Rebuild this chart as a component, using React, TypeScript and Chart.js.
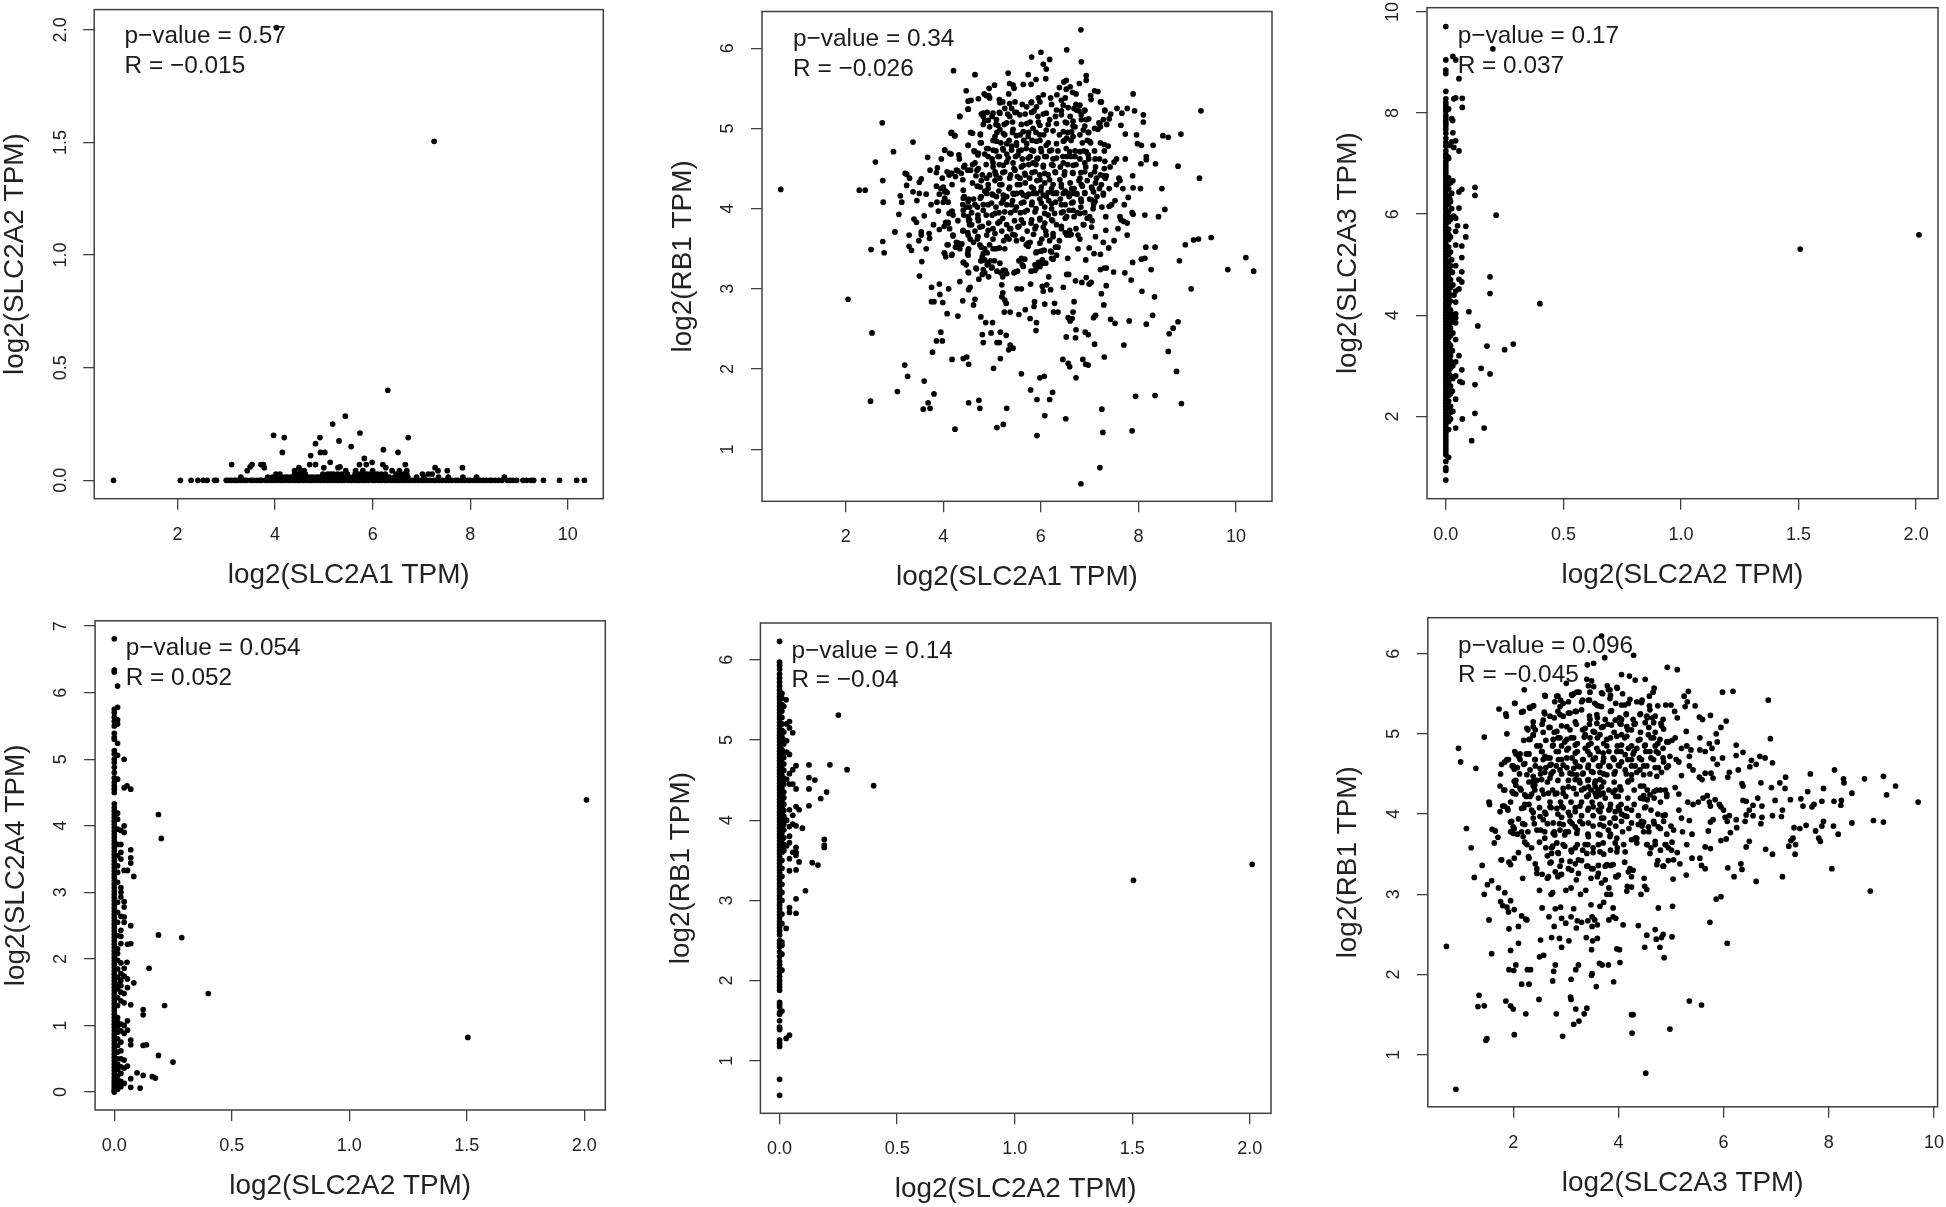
import { useEffect, useRef } from "react";
import { Chart, registerables } from "chart.js";

Chart.register(...registerables);

// ---------- Panel 1: SLC2A1 vs SLC2A2 ----------
const a1BaselineX = [0.69,2.06,2.28,2.42,2.53,2.61,2.76,2.8,3.0,3.05,3.1,3.16,3.2,3.25,3.3,3.37,3.42,3.5,3.55,3.62,3.68,3.72,3.8,3.85,3.92,3.97,4.03,4.1,4.15,4.22,4.28,4.33,4.4,4.46,4.5,4.57,4.63,4.7,4.75,4.82,4.88,4.93,5.0,5.06,5.12,5.18,5.24,5.3,5.37,5.42,5.5,5.55,5.62,5.68,5.73,5.8,5.86,5.92,6.0,6.05,6.12,6.18,6.25,6.3,6.37,6.43,6.5,6.55,6.62,6.68,6.74,6.8,6.86,6.93,7.0,7.05,7.12,7.18,7.25,7.3,7.37,7.43,7.5,7.56,7.62,7.7,7.75,7.82,7.88,7.95,8.0,8.07,8.13,8.2,8.27,8.33,8.4,8.45,8.52,8.58,8.65,8.76,8.82,8.88,8.95,9.08,9.16,9.25,9.3,9.5,9.83,10.18,10.34];
const a1LowX = [3.3,3.85,3.95,4.05,4.12,4.2,4.25,4.32,4.38,4.42,4.5,4.55,4.6,4.66,4.72,4.78,4.85,4.9,4.96,5.05,5.1,5.15,5.22,5.27,5.33,5.4,5.46,5.52,5.6,5.66,5.7,5.76,5.82,5.9,5.96,6.02,6.08,6.14,6.2,6.28,6.34,6.45,6.52,6.6,6.66,6.72,6.9,7.05,7.35,7.55,7.85,8.13,8.7];
const a1MidX = [4.02,4.1,4.4,4.48,4.55,4.62,4.98,5.08,5.14,5.2,5.28,5.36,5.48,5.64,5.72,5.78,5.88,5.95,6.04,6.1,6.18,6.26,6.48,6.56,6.64,6.7,7.02,7.14,7.22];
const a1Outliers: [number, number][] = [[7.26,1.505],[4.03,2.01],[6.31,0.4],[5.44,0.285],[5.18,0.25],[5.74,0.21],[3.97,0.2],[4.19,0.19],[4.92,0.19],[6.73,0.19],[4.83,0.163],[5.31,0.175],[5.56,0.15],[6.22,0.136],[4.15,0.124],[4.93,0.124],[5.02,0.124],[6.52,0.124],[4.73,0.11],[5.83,0.097],[5.13,0.08],[5.99,0.08],[3.11,0.07],[3.49,0.06],[3.53,0.07],[3.43,0.043],[3.71,0.07],[3.76,0.07],[3.78,0.056],[4.71,0.07],[4.83,0.07],[5.0,0.056],[5.29,0.056],[5.73,0.07],[5.87,0.07],[6.21,0.07],[6.27,0.056],[6.67,0.07],[7.28,0.056],[7.34,0.043],[7.53,0.043],[7.84,0.056],[4.49,0.056],[4.52,0.043],[4.6,0.043],[4.4,0.043],[5.33,0.06],[5.45,0.043],[5.65,0.043],[5.8,0.043],[6.0,0.043],[6.4,0.043],[6.55,0.043],[6.7,0.043]];

// ---------- Panel 2: SLC2A1 vs RB1 ----------
const a1Rb1Sparse: [number, number][] = [[0.67,4.24],[2.05,2.87],[2.28,4.23],[2.4,4.23],[2.52,3.49],[2.54,2.45],[2.51,1.6],[2.61,4.58],[2.75,5.07],[2.76,4.35],[2.77,4.08],[2.76,3.59],[2.79,3.45],[2.98,4.71],[3.01,3.71],[3.09,3.93],[3.12,4.16],[3.15,4.08],[3.21,2.05],[3.06,1.72],[3.27,1.91],[3.22,4.44],[3.25,4.43],[3.25,4.29],[3.31,4.38],[3.38,4.83],[3.38,4.21],[3.3,3.67],[3.3,3.53],[3.35,3.48],[3.4,3.87],[3.45,3.83],[3.46,4.1],[3.51,4.19],[3.51,4.33],[3.55,4.37],[3.5,3.6],[3.55,3.71],[3.55,3.67],[3.56,3.34],[3.51,3.16],[3.61,3.91],[3.65,3.5],[3.68,4.64],[3.65,4.18],[3.73,4.48],[3.71,3.69],[3.72,3.63],[3.76,3.02],[3.76,2.84],[3.81,2.84],[3.78,2.21],[3.61,1.85],[3.81,1.69],[3.59,1.5],[3.69,1.58],[3.73,1.51],[4.24,1.25],[4.18,2.12],[4.41,2.13],[4.48,2.15],[4.52,2.06],[4.52,1.58],[4.73,1.61],[4.75,1.51],[5.1,1.27],[5.23,1.31],[5.3,1.51],[5.03,2.01],[5.17,2.13],[3.86,2.35],[3.98,2.35],[3.95,2.46],[3.92,3.06],[3.93,2.93],[3.99,2.83],[4.11,3.0],[4.08,2.69],[4.3,2.66],[4.34,3.09],[4.4,2.85],[4.52,2.99],[4.55,3.02],[4.62,2.8],[4.65,2.87],[4.77,2.65],[4.87,2.58],[5.01,2.58],[4.98,2.45],[4.8,2.43],[4.82,2.33],[5.1,2.33],[5.15,2.33],[5.17,2.46],[5.29,2.42],[5.37,2.3],[5.34,2.24],[5.43,2.26],[5.6,1.94],[5.79,1.74],[5.92,1.62],[5.98,1.89],[6.07,1.91],[6.08,1.42],[5.92,1.17],[6.18,1.62],[6.24,1.71],[6.51,1.38],[6.72,1.89],[6.56,2.07],[6.59,2.03],[6.45,2.12],[6.86,2.12],[6.92,2.06],[6.97,2.05],[7.25,1.5],[7.21,0.77],[6.82,0.57],[7.27,1.21],[7.87,1.23],[7.94,1.66],[8.34,1.67],[8.78,1.97],[8.88,1.57],[7.3,2.15],[7.1,2.31],[7.7,2.3],[8.61,2.22],[8.63,2.44],[8.71,2.51],[8.81,2.59],[8.16,2.56],[8.29,2.67],[7.81,2.6],[7.52,2.57],[7.43,2.62],[7.08,2.64],[7.12,2.67],[7.29,2.8],[7.24,2.94],[7.34,3.04],[6.99,3.06],[7.03,3.08],[6.93,3.14],[6.71,3.1],[6.84,3.08],[6.66,2.71],[6.68,2.84],[6.72,2.49],[6.91,2.46],[6.97,2.43],[6.71,2.39],[6.52,2.4],[6.56,2.64],[6.64,2.63],[6.6,2.6],[6.28,2.82],[6.26,2.71],[6.35,2.71],[6.08,2.81],[5.87,2.84],[5.86,2.78],[5.78,2.63],[5.91,2.58],[5.9,2.48],[5.68,2.74],[5.55,2.68],[5.37,2.71],[5.25,2.71],[5.29,2.82],[5.26,2.86],[5.2,2.9],[5.22,2.95],[5.2,3.05],[5.51,3.0],[5.6,3.0],[5.79,3.06],[6.03,3.03],[6.12,3.05],[6.05,2.97],[6.2,2.99],[6.16,3.15],[6.46,3.02],[6.53,3.18],[6.57,3.18],[6.55,3.38],[6.92,3.36],[6.99,3.51],[7.09,3.44],[7.22,3.43],[7.22,3.24],[7.3,3.26],[7.34,3.26],[7.49,3.21],[7.72,3.2],[7.85,3.11],[7.88,3.33],[8.07,2.97],[8.33,2.9],[8.26,3.24],[8.06,3.37],[8.13,3.38],[8.15,3.52],[8.34,3.52],[8.84,3.35],[9.08,3.0],[8.96,3.55],[9.13,3.61],[9.23,3.62],[9.49,3.64],[9.83,3.24],[10.2,3.39],[10.36,3.22],[9.28,5.22],[9.25,4.38],[8.87,4.93],[8.81,4.53],[8.61,4.89],[8.5,4.91],[8.48,4.25],[8.54,3.99],[8.41,3.9],[7.89,5.43],[8.1,5.17],[8.1,5.08],[7.92,5.22],[7.77,5.25],[7.56,5.25],[7.43,5.18],[7.66,5.19],[7.64,5.04],[7.96,4.92],[7.73,4.93],[8.3,4.79],[7.98,4.81],[8.06,4.79],[8.16,4.65],[8.16,4.61],[8.05,4.56],[8.35,4.56],[7.73,4.62],[7.88,4.41],[7.89,4.26],[8.04,4.25],[7.87,3.95],[7.89,3.93],[8.13,3.92],[7.79,4.14],[7.71,4.05],[7.77,3.67],[7.77,3.82],[7.7,3.84],[7.62,3.9],[7.64,3.86],[7.58,3.75],[7.5,3.6],[7.39,3.51],[7.28,3.58],[7.33,3.73],[7.33,3.9],[7.12,3.65],[6.82,6.23],[6.83,5.83],[6.53,5.98],[6.0,5.95],[5.81,5.89],[6.18,5.86],[6.05,5.8],[6.11,5.74],[4.21,5.72],[4.65,5.67],[5.33,5.69],[5.74,5.67],[6.93,5.66],[6.93,5.6],[6.52,5.6],[6.47,5.58],[5.9,5.61],[6.1,5.62],[5.8,5.55],[5.64,5.55],[5.36,5.56],[5.43,5.54],[5.45,5.5],[5.05,5.54],[4.94,5.5],[4.47,5.47],[4.84,5.43],[4.93,5.41],[4.95,5.38],[4.88,5.41],[4.72,5.37],[4.57,5.35],[4.51,5.24],[4.34,5.15],[5.15,5.36],[5.22,5.33],[5.34,5.43],[6.79,5.56],[6.72,5.43],[6.6,5.52],[6.52,5.49],[6.65,5.45],[6.38,5.51],[6.33,5.42],[7.1,5.47],[7.17,5.46],[7.02,5.41],[7.03,5.36],[7.22,5.33],[7.31,5.22],[7.4,5.12],[7.19,5.07],[7.35,5.05],[7.22,5.02],[7.1,5.0],[4.16,4.94],[4.23,4.91],[4.6,4.94],[4.51,4.79],[4.76,4.92],[4.78,4.82],[4.63,4.72],[4.72,4.69],[4.03,4.73],[4.16,4.68],[4.32,4.67],[3.96,4.62],[3.88,4.51],[3.86,4.45],[3.98,4.38],[4.12,4.42],[4.08,4.46],[4.15,4.44]];
const a1Rb1Core: [number, number][] = [[4.6,4.55],[4.42,4.52],[4.5,4.48],[4.3,4.47],[4.25,4.4],[4.4,4.36],[4.18,4.3],[4.05,4.22],[3.95,4.25],[3.86,4.28],[3.92,4.18],[3.87,4.08],[4.0,4.08],[4.08,4.2],[3.75,4.05],[3.9,3.97],[4.12,3.94],[4.18,3.97],[3.8,3.8],[3.92,3.74],[4.02,3.78],[4.05,3.83],[4.1,3.83],[4.02,3.45],[4.05,3.4],[4.18,3.43],[4.08,3.55],[4.2,3.67],[4.27,3.58],[4.33,3.53],[4.25,3.52],[4.38,3.56],[4.52,3.5],[4.5,3.44],[4.42,3.33],[4.47,3.3],[4.52,3.2],[4.68,3.25],[4.77,3.35],[4.8,3.4],[4.85,3.36],[4.9,3.3],[4.97,3.35],[5.0,3.27],[5.05,3.35],[4.85,3.2],[4.93,3.15],[4.8,3.18],[4.73,3.12],[5.1,3.22],[5.18,3.2],[5.22,3.15],[5.27,3.23],[5.45,3.2],[5.52,3.22],[5.55,3.35],[5.6,3.38],[5.62,3.3],[5.8,3.22],[5.88,3.3],[5.95,3.33],[6.03,3.36],[6.1,3.32],[5.9,3.45],[6.0,3.47],[6.07,3.48],[6.2,3.47],[6.22,3.38],[6.3,3.52],[6.38,3.6],[4.4,3.72],[4.5,3.7],[4.55,3.62],[4.62,3.58],[4.7,3.62],[4.75,3.55],[4.85,3.5],[4.9,3.45],[4.95,3.55],[5.02,3.62],[5.08,3.5],[5.15,3.51],[5.24,3.6],[5.35,3.62],[5.42,3.68],[5.5,3.6],[5.62,3.62],[5.7,3.55],[5.78,3.58],[5.85,3.68],[6.02,3.62],[6.1,3.72],[6.18,3.6],[6.25,3.65],[6.42,3.78],[6.5,3.7],[6.62,3.68],[6.72,3.75],[6.8,3.62],[6.88,3.8],[6.95,3.88],[7.05,3.85],[4.3,3.85],[4.42,3.92],[4.48,4.02],[4.52,3.85],[4.58,3.8],[4.65,3.72],[4.72,3.85],[4.8,3.78],[4.88,3.92],[4.93,3.82],[5.02,3.75],[5.12,3.82],[5.2,3.72],[5.3,3.8],[5.38,3.75],[5.46,3.85],[5.55,3.78],[5.64,3.82],[5.72,3.72],[5.8,3.82],[5.9,3.78],[5.98,3.88],[6.08,3.82],[6.15,3.92],[6.24,3.85],[6.32,3.8],[6.42,3.95],[6.5,3.88],[6.58,3.98],[6.68,3.9],[6.75,3.95],[6.82,4.02],[6.9,3.95],[4.4,4.05],[4.43,4.15],[4.52,4.12],[4.58,3.95],[4.62,4.12],[4.7,4.02],[4.78,4.15],[4.82,3.98],[4.92,4.05],[5.0,3.92],[5.08,4.02],[5.14,3.95],[5.22,3.88],[5.3,4.05],[5.38,3.95],[5.42,4.1],[5.5,4.02],[5.58,3.95],[5.65,4.08],[5.72,3.98],[5.82,4.08],[5.9,4.0],[5.98,4.12],[6.08,4.02],[6.16,4.1],[6.22,4.0],[6.3,4.08],[6.4,4.12],[6.5,4.05],[6.58,4.15],[6.66,4.08],[6.74,4.18],[6.82,4.12],[6.9,4.2],[7.0,4.12],[7.08,4.05],[7.15,4.15],[7.25,4.02],[7.4,4.03],[7.45,4.05],[7.52,4.1],[4.7,4.28],[4.78,4.35],[4.85,4.22],[4.92,4.3],[5.0,4.18],[5.06,4.35],[5.14,4.22],[5.2,4.3],[5.28,4.15],[5.35,4.25],[5.45,4.18],[5.52,4.3],[5.6,4.2],[5.68,4.32],[5.75,4.18],[5.85,4.25],[5.92,4.35],[6.0,4.22],[6.08,4.32],[6.15,4.2],[6.25,4.3],[6.32,4.2],[6.42,4.3],[6.5,4.22],[6.6,4.32],[6.68,4.25],[6.78,4.35],[6.85,4.28],[6.95,4.35],[7.05,4.25],[7.12,4.32],[7.2,4.25],[7.32,4.38],[7.4,4.25],[7.55,4.3],[7.62,4.35],[7.68,4.25],[4.72,4.5],[4.8,4.42],[4.88,4.55],[4.95,4.42],[5.02,4.52],[5.08,4.42],[5.15,4.55],[5.22,4.45],[5.3,4.58],[5.38,4.42],[5.45,4.5],[5.52,4.4],[5.6,4.52],[5.68,4.42],[5.75,4.55],[5.82,4.45],[5.9,4.55],[5.98,4.42],[6.05,4.52],[6.15,4.42],[6.22,4.55],[6.3,4.45],[6.4,4.52],[6.48,4.42],[6.55,4.55],[6.65,4.45],[6.72,4.55],[6.82,4.45],[6.92,4.52],[7.02,4.42],[7.12,4.52],[7.22,4.42],[7.3,4.5],[7.42,4.52],[7.5,4.58],[7.55,4.62],[7.6,4.38],[4.85,4.68],[4.92,4.75],[5.0,4.62],[5.08,4.72],[5.15,4.65],[5.22,4.75],[5.3,4.68],[5.4,4.78],[5.48,4.65],[5.55,4.72],[5.62,4.62],[5.7,4.75],[5.78,4.65],[5.85,4.72],[5.92,4.62],[6.0,4.75],[6.08,4.65],[6.18,4.72],[6.25,4.62],[6.35,4.72],[6.45,4.65],[6.52,4.75],[6.62,4.65],[6.7,4.72],[6.8,4.62],[6.88,4.72],[6.98,4.62],[7.1,4.72],[7.2,4.62],[7.3,4.72],[7.38,4.78],[7.22,4.82],[7.3,4.8],[7.02,4.82],[6.95,4.85],[6.98,4.95],[5.02,4.85],[5.1,4.95],[5.18,4.82],[5.26,4.92],[5.35,4.85],[5.42,4.95],[5.5,4.82],[5.58,4.92],[5.65,4.85],[5.75,4.95],[5.82,4.85],[5.9,4.95],[5.98,4.85],[6.06,4.92],[6.15,4.82],[6.38,4.92],[6.48,4.85],[6.55,4.95],[6.62,4.85],[6.7,5.02],[6.8,4.92],[6.85,4.82],[5.0,5.15],[5.08,5.05],[5.15,5.2],[5.25,5.05],[5.32,5.18],[5.42,5.08],[5.5,5.2],[5.6,5.05],[5.68,5.18],[5.78,5.08],[5.86,5.22],[5.95,5.08],[6.05,5.18],[6.15,5.05],[6.3,5.15],[6.42,5.22],[6.5,5.08],[6.6,5.15],[6.68,5.25],[6.78,5.22],[6.9,5.22],[6.98,5.12],[5.62,5.3],[5.8,5.32],[5.95,5.38],[6.05,5.42],[6.2,5.38],[6.42,5.35],[6.5,5.38],[6.72,5.3],[4.78,5.18],[4.85,5.1],[4.95,5.02],[4.82,5.05],[4.9,5.2]];
const a1Rb1Field: [number, number][] = [[4.51,5.34],[5.16,5.32],[5.36,5.31],[5.47,5.33],[5.81,5.33],[5.98,5.33],[6.22,5.3],[6.46,5.29],[6.8,5.29],[7.24,5.33],[4.51,5.24],[5.26,5.25],[5.4,5.25],[5.71,5.27],[5.91,5.27],[6.32,5.23],[6.56,5.26],[6.73,5.23],[6.9,5.23],[4.82,5.19],[5.02,5.19],[5.16,5.19],[5.47,5.2],[5.81,5.2],[6.11,5.19],[6.42,5.17],[6.83,5.17],[7.31,5.23],[4.34,5.15],[4.82,5.15],[4.92,5.1],[5.09,5.11],[5.36,5.15],[5.57,5.17],[5.94,5.15],[6.18,5.11],[6.53,5.07],[6.66,5.09],[6.83,5.11],[6.93,5.11],[7.28,5.11],[5.12,5.04],[5.3,5.07],[5.71,5.06],[5.98,5.04],[6.32,5.06],[6.66,5.03],[6.9,5.03],[7.21,5.06],[5.16,4.99],[5.43,4.99],[5.64,4.96],[5.84,5.0],[6.11,4.98],[6.25,4.97],[6.46,4.96],[6.63,4.96],[6.87,4.98],[7.17,4.99],[4.17,4.95],[4.24,4.91],[4.56,4.95],[4.76,4.93],[5.23,4.94],[5.06,4.9],[5.5,4.91],[5.74,4.9],[5.98,4.92],[6.53,4.88],[6.66,4.9],[6.97,4.95],[4.76,4.82],[4.51,4.79],[4.89,4.75],[5.09,4.84],[5.3,4.81],[5.5,4.79],[5.71,4.81],[5.91,4.84],[6.11,4.79],[6.32,4.81],[6.46,4.84],[7.0,4.84],[4.03,4.73],[4.65,4.71],[5.02,4.73],[5.23,4.73],[5.4,4.73],[5.6,4.73],[5.81,4.73],[6.01,4.71],[6.22,4.73],[6.59,4.71],[6.8,4.71],[6.93,4.71],[4.13,4.69],[4.33,4.62],[4.71,4.67],[4.92,4.65],[5.12,4.65],[5.33,4.63],[5.53,4.67],[5.74,4.63],[5.94,4.63],[6.11,4.65],[6.32,4.63],[6.53,4.65],[6.7,4.65],[6.97,4.67],[7.11,4.62],[7.31,4.59],[4.44,4.54],[4.65,4.57],[5.02,4.57],[5.23,4.54],[5.43,4.57],[5.64,4.54],[5.84,4.57],[6.05,4.54],[6.25,4.54],[6.46,4.57],[6.66,4.54],[6.9,4.57],[4.17,4.44],[4.27,4.48],[4.56,4.48],[4.69,4.48],[5.06,4.46],[5.26,4.46],[5.47,4.48],[5.67,4.44],[5.88,4.46],[6.08,4.44],[6.29,4.46],[6.49,4.46],[6.66,4.44],[6.9,4.46],[7.1,4.46],[7.28,4.41],[4.37,4.44],[4.67,4.41],[4.89,4.38],[5.16,4.38],[5.36,4.38],[5.57,4.38],[5.77,4.38],[5.98,4.36],[6.18,4.36],[6.39,4.36],[6.8,4.38],[7.14,4.38],[7.34,4.41],[4.6,4.32],[4.76,4.27],[4.92,4.25],[5.16,4.3],[5.36,4.27],[5.57,4.3],[5.81,4.27],[6.01,4.27],[6.22,4.25],[6.42,4.27],[6.63,4.25],[6.83,4.3],[7.04,4.27],[7.24,4.3],[4.0,4.27],[4.03,4.21],[4.41,4.23],[5.02,4.17],[5.23,4.17],[5.43,4.19],[5.64,4.17],[5.84,4.19],[6.05,4.17],[6.25,4.19],[6.46,4.19],[6.66,4.19],[6.9,4.19],[7.08,4.21],[4.41,4.13],[4.51,4.09],[4.76,4.13],[4.89,4.19],[5.09,4.15],[5.3,4.15],[5.5,4.19],[5.71,4.15],[5.91,4.19],[6.11,4.15],[6.32,4.19],[6.56,4.19],[6.73,4.19],[7.28,4.17],[4.03,4.13],[4.1,4.08],[4.54,4.02],[4.65,4.05],[4.82,4.05],[4.99,4.07],[5.19,4.07],[5.4,4.05],[5.6,4.07],[5.81,4.05],[6.01,4.07],[6.22,4.06],[6.42,4.05],[6.63,4.07],[6.83,4.09],[7.04,4.11],[7.11,4.09],[7.28,4.19],[5.23,4.11],[4.17,3.96],[4.2,3.92],[4.41,3.98],[4.51,3.9],[4.71,3.92],[5.06,3.94],[5.26,3.96],[5.47,3.98],[5.67,3.96],[5.88,3.96],[6.08,3.94],[6.28,3.94],[6.46,3.96],[6.66,3.98],[6.8,3.94],[7.07,4.0],[4.1,3.82],[4.13,3.75],[4.54,3.86],[4.71,3.88],[5.16,3.84],[5.6,3.86],[5.81,3.86],[5.98,3.86],[6.22,3.86],[6.53,3.9],[7.0,3.9],[4.41,3.73],[4.54,3.8],[4.75,3.77],[4.92,3.73],[5.36,3.75],[5.53,3.77],[5.88,3.75],[6.05,3.77],[6.42,3.75],[6.59,3.73],[6.87,3.8],[7.04,3.77],[4.2,3.66],[4.51,3.67],[4.71,3.65],[4.89,3.67],[5.06,3.69],[5.3,3.65],[5.47,3.67],[5.74,3.57],[5.98,3.57],[6.11,3.67],[6.25,3.69],[6.53,3.67],[6.59,3.67],[6.76,3.67],[4.31,3.57],[4.1,3.55],[4.34,3.5],[4.51,3.48],[4.78,3.52],[5.02,3.5],[5.26,3.5],[5.74,3.53],[5.91,3.46],[6.05,3.48],[6.22,3.46],[6.35,3.52],[6.76,3.5],[4.03,3.44],[4.17,3.42],[4.51,3.42],[4.82,3.44],[6.32,3.42],[4.41,3.33],[4.78,3.35],[4.92,3.32],[5.16,3.32],[5.57,3.35],[5.67,3.37],[5.64,3.28],[6.05,3.32],[5.98,3.28],[5.91,3.26],[6.25,3.37],[4.51,3.21],[4.67,3.26],[4.82,3.24],[4.99,3.26],[5.23,3.23],[5.3,3.19],[5.47,3.21],[5.88,3.23]];

// ---------- Panel 3: SLC2A2 vs SLC2A3 ----------
const a3AtZero = [9.71,9.05,8.85,8.78,8.43,8.28,8.2,8.14,8.08,8.03,7.95,7.9,7.85,7.8,7.75,7.68,7.6,7.5,7.42,7.35,7.25,7.18,7.12,7.05,7.0,6.94,6.88,6.82,6.76,6.7,6.64,6.58,6.52,6.46,6.4,6.34,6.28,6.22,6.16,6.1,6.04,5.98,5.92,5.86,5.8,5.74,5.68,5.62,5.56,5.5,5.44,5.38,5.32,5.26,5.2,5.14,5.08,5.02,4.96,4.9,4.84,4.78,4.72,4.66,4.6,4.54,4.48,4.42,4.36,4.3,4.24,4.18,4.12,4.06,4.0,3.94,3.88,3.82,3.76,3.7,3.64,3.58,3.52,3.46,3.4,3.34,3.28,3.22,3.16,3.1,3.04,2.98,2.92,2.86,2.8,2.74,2.68,2.62,2.56,2.5,2.44,2.38,2.32,2.26,2.2,2.14,2.08,2.02,1.96,1.9,1.84,1.78,1.72,1.66,1.6,1.54,1.48,1.42,1.36,1.3,1.24,1.11,0.98,0.93,0.74];
const a3AtSmall = [7.1,6.72,6.6,6.5,6.35,6.2,6.05,5.95,5.85,5.7,5.6,5.5,5.35,5.2,5.05,4.95,4.9,4.82,4.75,4.68,4.6,4.52,4.45,4.38,4.3,4.22,4.15,4.08,4.02,3.95,3.88,3.8,3.72,3.65,3.55,3.45,3.35,3.25,3.15,3.05,2.98,2.88,2.78,2.68,2.55,2.42,2.3,2.18,2.05,1.9,1.74];
const a3AtTiny = [6.62,6.25,5.9,5.55,5.25,4.98,4.88,4.7,4.55,4.4,4.28,4.1,3.98,3.85,3.75,3.6,3.4,3.2,3.1,2.95,2.8,2.6,2.45,2.2,2.08,1.95];
const a3Sparse: [number, number][] = [[0.03,9.12],[0.042,9.05],[0.2,9.27],[0.056,8.68],[0.034,8.28],[0.042,8.3],[0.07,8.29],[0.07,8.11],[0.012,8.08],[0.025,7.89],[0.029,7.85],[0.03,7.61],[0.025,7.43],[0.042,7.45],[0.017,7.36],[0.034,7.32],[0.056,7.25],[0.01,7.13],[0.03,6.66],[0.068,6.49],[0.056,6.44],[0.124,6.53],[0.124,6.37],[0.025,6.41],[0.017,6.3],[0.056,6.12],[0.214,5.98],[0.025,6.11],[0.034,5.96],[0.042,5.92],[0.085,5.76],[0.085,5.55],[0.05,5.77],[0.042,5.66],[0.068,5.37],[0.042,5.39],[0.068,5.14],[0.025,5.1],[0.042,4.98],[0.068,4.86],[0.068,4.66],[0.056,4.71],[0.188,4.76],[0.188,4.43],[0.042,4.48],[0.056,4.52],[0.4,4.23],[0.098,4.07],[0.136,3.79],[0.042,4.26],[0.042,4.03],[0.042,3.95],[0.042,3.85],[0.175,3.39],[0.25,3.32],[0.287,3.43],[0.042,3.52],[0.056,3.2],[0.042,3.08],[0.15,2.95],[0.188,2.84],[0.068,2.92],[0.042,2.8],[0.06,2.69],[0.07,2.67],[0.124,2.63],[0.042,2.34],[0.124,2.06],[0.07,1.95],[0.042,1.77],[0.163,1.77],[0.11,1.52],[1.507,5.31],[2.012,5.59],[0.012,1.19],[0.028,4.85],[0.03,4.6],[0.035,4.4],[0.028,4.02],[0.03,3.9],[0.03,3.65],[0.028,3.3],[0.03,3.0],[0.03,2.75],[0.028,2.5],[0.03,2.1]];

// ---------- Panel 4: SLC2A2 vs SLC2A4 ----------
const a4AtZero = [6.81,6.34,6.31,5.75,5.7,5.63,5.57,5.5,5.39,5.33,5.3,5.13,5.08,5.0,4.95,4.88,4.8,4.72,4.65,4.6,4.55,4.5,4.33,4.27,4.22,4.17,4.12,4.07,4.02,3.97,3.92,3.87,3.82,3.77,3.72,3.67,3.62,3.57,3.52,3.47,3.42,3.37,3.32,3.27,3.22,3.17,3.12,3.07,3.02,2.97,2.92,2.87,2.82,2.77,2.72,2.67,2.62,2.57,2.52,2.47,2.42,2.37,2.32,2.27,2.22,2.17,2.12,2.07,2.02,1.97,1.92,1.87,1.82,1.77,1.72,1.67,1.62,1.57,1.52,1.47,1.42,1.37,1.32,1.27,1.22,1.17,1.12,1.07,1.02,0.97,0.92,0.87,0.82,0.77,0.72,0.67,0.62,0.57,0.52,0.47,0.42,0.37,0.32,0.27,0.22,0.17,0.13,0.09,0.05,0.02,0.0];
const a4AtSmall = [6.1,5.78,5.59,5.53,5.24,5.06,4.7,4.19,4.1,3.95,3.72,3.55,3.4,3.3,3.15,2.85,2.7,2.55,2.35,2.15,2.08,1.98,1.85,1.72,1.62,1.55,1.42,1.3,1.12,1.05,0.98,0.9,0.8,0.7,0.6,0.5,0.42,0.34,0.25,0.18,0.1,0.04];
const a4AtTiny = [3.93,3.72,3.6,3.5,3.07,3.0,2.93,2.64,2.43,2.34,2.23,1.94,1.78,1.68,1.6,1.5,1.37,1.02,0.92,0.75,0.62,0.5,0.38,0.28,0.16,0.08];
const a4Sparse: [number, number][] = [[0.042,5.0],[0.042,4.57],[0.054,4.6],[0.07,4.55],[0.188,4.17],[0.2,3.81],[2.01,4.39],[0.042,4.0],[0.042,3.9],[0.07,3.64],[0.07,3.52],[0.07,3.44],[0.083,3.24],[0.042,3.33],[0.056,3.33],[0.042,2.86],[0.042,2.78],[0.042,2.63],[0.042,2.55],[0.07,2.5],[0.188,2.36],[0.287,2.32],[0.056,2.22],[0.07,2.23],[0.054,1.95],[0.042,1.86],[0.148,1.86],[0.083,1.64],[0.056,1.7],[0.042,1.74],[0.056,1.57],[0.4,1.48],[0.042,1.48],[0.042,1.34],[0.07,1.31],[0.214,1.3],[0.123,1.24],[0.123,1.16],[0.056,1.07],[0.042,1.0],[0.056,0.93],[0.042,0.88],[0.07,0.78],[0.07,0.71],[0.123,0.7],[0.137,0.71],[1.505,0.82],[0.188,0.55],[0.25,0.45],[0.056,0.39],[0.042,0.48],[0.042,0.36],[0.097,0.29],[0.123,0.25],[0.162,0.23],[0.175,0.21],[0.07,0.2],[0.042,0.13],[0.07,0.07],[0.11,0.06]];

// ---------- Panel 5: SLC2A2 vs RB1 ----------
const rb1AtZero = [6.23,5.97,5.93,5.88,5.82,5.77,5.72,5.67,5.62,5.58,5.54,5.5,5.46,5.42,5.38,5.34,5.3,5.26,5.22,5.18,5.14,5.1,5.06,5.02,4.98,4.94,4.9,4.86,4.82,4.78,4.74,4.7,4.66,4.62,4.58,4.54,4.5,4.46,4.42,4.38,4.34,4.3,4.26,4.22,4.18,4.14,4.1,4.06,4.02,3.98,3.94,3.9,3.86,3.82,3.78,3.74,3.7,3.66,3.62,3.58,3.54,3.5,3.46,3.42,3.38,3.34,3.3,3.26,3.22,3.18,3.14,3.1,3.06,3.02,2.98,2.94,2.9,2.86,2.82,2.78,2.74,2.7,2.66,2.62,2.57,2.5,2.46,2.42,2.36,2.3,2.24,2.2,2.15,2.1,2.05,2.0,1.96,1.92,1.88,1.73,1.7,1.67,1.6,1.58,1.5,1.42,1.39,1.26,1.22,1.18,0.77,0.57];
const rb1AtSmall = [5.58,5.52,5.44,5.36,5.28,5.2,5.12,5.04,4.96,4.88,4.8,4.72,4.64,4.56,4.48,4.4,4.32,4.24,4.16,4.08,4.0,3.92,3.84,3.76,3.68,3.6,3.5,3.4,3.3,3.2,3.1,3.0,2.83,2.71,2.48,2.44,2.33,2.13,1.62];
const rb1AtTiny = [5.42,5.1,5.0,4.95,4.85,4.78,4.7,4.62,4.52,4.45,4.35,4.28,4.2,4.12,4.05,3.95,3.88,3.78,3.7,3.62];
const rb1Sparse: [number, number][] = [[0.028,1.28],[0.042,1.32],[0.028,2.65],[0.042,2.85],[0.07,2.84],[0.042,2.91],[0.07,3.02],[0.11,3.12],[0.07,3.38],[0.042,3.37],[0.083,3.48],[0.042,3.52],[0.139,3.47],[0.163,3.44],[0.07,3.56],[0.07,3.6],[0.07,3.66],[0.056,3.6],[0.19,3.76],[0.19,3.69],[0.19,3.66],[0.03,3.68],[0.042,3.8],[0.042,3.72],[0.097,3.9],[0.056,3.95],[0.07,3.93],[0.03,4.0],[0.042,3.92],[0.042,4.13],[0.056,4.06],[0.083,4.13],[0.07,4.17],[0.125,4.18],[0.175,4.27],[0.2,4.35],[0.125,4.39],[0.07,4.39],[0.125,4.53],[0.15,4.5],[0.4,4.43],[0.287,4.63],[0.214,4.69],[0.125,4.69],[0.07,4.68],[0.056,4.63],[0.042,4.58],[0.03,4.51],[0.056,4.45],[0.042,4.45],[0.25,5.31],[0.056,5.09],[0.042,5.23],[0.042,5.15],[0.03,5.2],[0.028,5.5],[0.042,4.82],[0.03,4.85],[0.03,4.99],[1.505,3.25],[2.01,3.45]];

// ---------- Panel 6: SLC2A3 vs RB1 ----------
const a3Rb1Sparse: [number, number][] = [[0.73,2.35],[0.91,0.57],[0.96,4.82],[1.0,4.65],[1.11,3.82],[1.2,3.58],[1.29,4.57],[1.26,3.21],[1.41,3.36],[1.45,4.96],[1.51,3.12],[1.59,3.17],[1.45,3.0],[1.54,4.15],[1.55,4.12],[1.35,1.74],[1.33,1.6],[1.45,1.61],[1.48,1.18],[1.5,1.2],[1.54,2.68],[1.59,2.26],[1.6,3.81],[1.66,3.79],[1.64,3.64],[1.71,3.71],[1.73,5.31],[1.86,5.25],[1.87,5.22],[1.88,5.0],[1.77,3.43],[1.72,3.08],[1.84,3.02],[1.76,2.91],[1.8,2.86],[1.88,2.84],[1.95,2.92],[1.91,2.78],[2.02,2.81],[1.92,2.57],[1.95,2.3],[2.1,2.6],[2.1,2.39],[2.16,2.73],[2.24,2.69],[2.26,2.68],[1.92,2.06],[2.01,2.05],[2.05,2.12],[2.16,1.88],[2.3,1.88],[2.27,2.06],[2.33,2.06],[1.86,1.67],[1.95,1.61],[2.0,1.57],[2.24,1.51],[2.02,1.25],[2.49,1.69],[2.82,1.51],[2.94,1.23],[3.15,1.38],[3.25,1.42],[3.35,1.51],[3.4,1.58],[3.19,1.57],[3.09,1.72],[3.1,1.69],[3.1,1.94],[3.19,2.06],[3.24,2.12],[2.75,1.92],[2.77,2.04],[2.8,2.12],[2.5,2.22],[2.58,2.24],[2.52,2.43],[2.73,2.46],[2.88,2.45],[2.92,2.34],[3.06,2.42],[3.39,2.46],[3.51,2.42],[3.49,2.31],[3.6,2.45],[3.49,1.99],[3.5,2.01],[3.58,1.85],[3.64,2.14],[3.69,2.12],[3.81,2.12],[3.91,1.91],[3.97,2.32],[4.02,2.31],[4.03,2.15],[4.09,2.62],[4.38,2.61],[4.25,1.5],[4.28,1.5],[4.26,1.27],[4.98,1.32],[5.35,1.67],[5.58,1.62],[4.52,0.77],[4.5,2.34],[4.54,2.49],[4.7,2.56],[4.72,2.44],[4.79,2.34],[4.82,2.46],[4.85,2.5],[4.87,2.21],[5.02,2.47],[5.03,2.85],[4.76,2.83],[4.43,3.0],[4.5,3.1],[4.54,3.06],[4.49,3.2],[4.17,3.1],[4.25,3.09],[4.16,3.04],[5.04,3.19],[5.29,3.24],[5.74,2.65],[6.07,2.39],[5.86,2.94],[5.95,2.97],[6.2,3.22],[6.08,3.33],[6.33,3.38],[6.35,3.31],[6.62,3.16],[7.12,3.22],[8.06,3.32],[8.79,3.04],[9.7,4.15],[9.27,4.35],[9.04,4.47],[8.68,4.44],[9.1,4.24],[8.85,3.92],[9.04,3.9],[8.44,4.26],[8.44,3.89],[8.28,4.44],[8.29,4.39],[8.11,4.55],[7.9,4.32],[7.87,4.16],[8.1,4.16],[8.24,4.17],[8.23,4.11],[7.65,4.5],[7.6,4.28],[7.72,4.12],[7.68,4.09],[7.9,3.91],[7.87,3.85],[8.09,3.85],[8.18,3.75],[7.75,3.79],[7.81,3.7],[7.84,3.66],[7.57,3.86],[7.45,3.82],[7.34,3.83],[7.32,3.7],[7.28,3.67],[7.37,3.62],[7.24,3.6],[7.36,3.5],[7.47,4.19],[7.51,4.1],[7.27,4.18],[7.18,4.46],[7.17,4.32],[7.07,4.39],[7.12,4.05],[7.1,3.97],[6.98,4.17],[6.91,4.33],[6.93,3.98],[6.93,4.64],[6.89,4.94],[6.85,5.42],[6.79,4.7],[6.69,4.72],[6.53,4.67],[6.62,4.62],[6.5,4.59],[6.71,4.39],[6.65,4.2],[6.73,4.1],[6.73,3.96],[6.71,3.88],[6.8,3.56],[6.93,3.5],[6.35,4.38],[6.37,4.35],[6.37,4.77],[6.24,4.73],[6.24,4.86],[6.28,4.55],[6.11,4.52],[6.08,4.46],[6.18,5.53],[5.98,5.52],[6.05,5.16],[5.95,5.08],[5.86,5.0],[5.88,4.9],[5.98,4.7],[5.8,4.69],[5.88,4.62],[6.37,4.17],[6.43,4.16],[6.49,4.05],[6.56,4.11],[6.43,3.99],[6.41,3.91],[6.56,3.98],[6.49,3.66],[6.43,3.59],[6.24,3.93],[6.25,3.83],[6.13,3.77],[6.05,3.69],[5.95,3.67],[6.11,3.98],[6.03,3.96],[6.07,3.91],[5.8,3.93],[5.75,3.9],[5.71,3.79],[5.75,3.57],[5.65,3.59],[5.92,4.12],[5.95,4.09],[6.0,4.05],[5.84,4.18],[5.73,4.15],[5.75,4.1],[5.69,4.23],[5.61,4.2],[5.52,4.15],[5.8,4.45],[5.76,4.51],[5.65,4.51],[5.59,4.43],[5.54,4.46],[4.29,5.98],[3.74,5.95],[3.68,6.22],[4.93,5.83],[5.12,5.8],[3.53,5.88],[3.41,5.86],[4.51,5.68],[4.32,5.67],[4.21,5.72],[4.06,5.74],[3.4,5.68],[3.49,5.66],[3.53,5.59],[3.43,5.6],[3.01,5.63],[3.79,5.6],[2.21,5.55],[3.98,5.57],[3.84,5.55],[4.68,5.57],[4.66,5.52],[5.33,5.53],[5.25,5.47],[4.59,5.47],[2.61,5.47],[2.16,5.27],[2.03,5.38],[2.31,5.33],[2.39,5.35],[5.46,5.35],[5.31,5.4],[5.27,5.34],[5.07,5.28],[5.75,5.23],[5.54,5.21],[5.6,5.18],[5.29,5.03]];
const a3Rb1Core: [number, number][] = [[2.85,5.47],[2.9,5.42],[3.05,5.4],[3.15,5.5],[3.25,5.52],[3.12,5.48],[2.95,5.38],[3.32,5.42],[3.45,5.42],[3.55,5.38],[3.7,5.5],[3.62,5.35],[3.85,5.48],[3.95,5.38],[4.12,5.36],[4.22,5.43],[4.35,5.4],[4.45,5.42],[4.6,5.3],[4.75,5.35],[4.9,5.36],[5.0,5.36],[2.6,5.25],[2.7,5.22],[2.78,5.2],[2.85,5.28],[2.95,5.22],[3.08,5.26],[3.2,5.28],[3.3,5.3],[3.45,5.22],[3.6,5.2],[3.75,5.18],[3.85,5.28],[4.02,5.2],[4.15,5.25],[4.28,5.18],[4.42,5.25],[4.55,5.2],[4.7,5.22],[4.85,5.18],[5.12,5.2],[2.38,5.15],[2.42,5.05],[2.28,5.05],[2.38,4.98],[2.2,4.92],[2.55,5.12],[2.68,5.08],[2.78,5.02],[2.92,5.1],[3.08,5.05],[3.2,5.12],[3.32,5.05],[3.45,5.12],[3.55,5.02],[3.68,5.08],[3.8,5.12],[3.92,5.02],[4.05,5.12],[4.18,5.05],[4.3,5.12],[4.42,5.02],[4.58,5.08],[4.7,5.02],[4.82,5.1],[4.92,4.9],[5.02,4.92],[5.08,4.95],[2.3,4.93],[2.45,4.85],[2.62,4.92],[2.75,4.85],[2.85,4.95],[2.98,4.9],[3.1,4.95],[3.22,4.88],[3.35,4.96],[3.48,4.88],[3.6,4.95],[3.72,4.88],[3.85,4.95],[3.98,4.85],[4.12,4.95],[4.25,4.85],[4.38,4.92],[4.5,4.85],[4.62,4.95],[4.75,4.88],[4.85,4.82],[5.2,4.82],[5.3,4.85],[5.38,4.8],[5.35,4.72],[5.55,4.8],[5.65,4.78],[5.55,4.95],[5.73,4.88],[5.78,4.82],[2.05,4.75],[2.1,4.72],[2.25,4.75],[2.3,4.75],[2.42,4.68],[2.55,4.78],[2.65,4.7],[2.72,4.62],[2.82,4.78],[2.92,4.68],[3.02,4.8],[3.12,4.7],[3.22,4.78],[3.32,4.68],[3.42,4.78],[3.52,4.68],[3.62,4.78],[3.72,4.7],[3.82,4.78],[3.92,4.68],[4.05,4.78],[4.18,4.68],[4.3,4.78],[4.4,4.7],[4.52,4.78],[4.62,4.7],[4.72,4.78],[4.85,4.7],[4.98,4.72],[5.1,4.68],[5.15,4.65],[1.78,4.62],[1.88,4.68],[1.98,4.6],[2.08,4.58],[2.2,4.62],[2.32,4.55],[2.42,4.6],[2.52,4.5],[2.62,4.58],[2.72,4.5],[2.82,4.6],[2.92,4.5],[3.02,4.58],[3.12,4.5],[3.22,4.6],[3.32,4.5],[3.42,4.58],[3.52,4.52],[3.62,4.6],[3.72,4.5],[3.82,4.6],[3.92,4.5],[4.02,4.6],[4.15,4.5],[4.25,4.6],[4.35,4.52],[4.48,4.6],[4.6,4.5],[4.7,4.58],[4.82,4.52],[4.92,4.58],[5.2,4.48],[5.35,4.6],[5.42,4.55],[1.76,4.5],[1.75,4.35],[1.82,4.3],[2.05,4.42],[2.12,4.5],[2.3,4.4],[2.38,4.35],[2.45,4.42],[2.55,4.3],[2.65,4.4],[2.75,4.3],[2.85,4.42],[2.95,4.32],[3.05,4.42],[3.15,4.32],[3.25,4.42],[3.35,4.32],[3.42,4.42],[3.48,4.3],[3.55,4.38],[3.62,4.3],[3.72,4.4],[3.82,4.3],[3.92,4.4],[4.05,4.3],[4.18,4.4],[4.3,4.3],[4.42,4.35],[4.55,4.3],[4.68,4.28],[4.8,4.3],[4.92,4.25],[5.08,4.33],[5.15,4.25],[1.98,4.28],[2.05,4.25],[2.15,4.3],[2.25,4.22],[2.35,4.25],[2.48,4.2],[2.58,4.25],[2.7,4.15],[2.8,4.25],[2.9,4.15],[3.0,4.22],[3.1,4.15],[3.2,4.25],[3.3,4.15],[3.4,4.22],[3.5,4.15],[3.58,4.22],[3.65,4.12],[3.75,4.2],[3.85,4.12],[3.95,4.22],[4.05,4.12],[4.18,4.2],[4.3,4.12],[4.42,4.2],[4.55,4.18],[4.68,4.2],[4.8,4.15],[5.32,4.15],[5.42,4.12],[1.8,4.1],[1.9,4.05],[1.75,4.03],[1.95,4.15],[2.2,4.08],[2.3,4.12],[2.38,4.02],[2.5,4.08],[2.62,4.0],[2.72,4.08],[2.85,4.0],[2.95,4.08],[3.08,3.98],[3.18,4.08],[3.3,3.98],[3.42,4.05],[3.52,3.98],[3.62,4.05],[3.72,3.95],[3.82,4.05],[3.92,3.95],[4.02,4.05],[4.12,3.98],[4.25,4.05],[4.38,3.98],[4.5,4.08],[4.62,4.05],[4.75,4.0],[4.85,3.98],[5.0,3.85],[5.15,4.05],[5.35,3.92],[5.2,3.95],[1.95,3.9],[2.02,3.82],[1.95,3.78],[2.08,3.75],[2.18,3.88],[2.28,3.78],[2.4,3.88],[2.52,3.8],[2.65,3.88],[2.78,3.78],[2.88,3.88],[3.0,3.78],[3.12,3.88],[3.22,3.8],[3.32,3.88],[3.42,3.75],[3.52,3.85],[3.62,3.75],[3.72,3.85],[3.85,3.75],[3.95,3.85],[4.08,3.78],[4.2,3.82],[4.35,3.7],[4.45,3.85],[4.58,3.78],[4.68,3.88],[4.8,3.82],[4.92,3.75],[5.05,3.8],[5.22,3.78],[5.4,3.75],[2.22,3.65],[2.35,3.58],[2.1,3.52],[2.02,3.45],[1.95,3.37],[1.92,3.4],[2.5,3.65],[2.62,3.58],[2.75,3.6],[2.85,3.52],[2.98,3.6],[3.1,3.55],[3.22,3.62],[3.32,3.55],[3.42,3.62],[3.52,3.52],[3.62,3.62],[3.72,3.5],[3.85,3.55],[3.98,3.58],[4.1,3.62],[4.55,3.62],[4.62,3.58],[4.7,3.62],[4.8,3.55],[4.9,3.62],[5.02,3.65],[5.12,3.52],[5.3,3.62],[5.4,3.45],[5.55,3.45],[5.58,3.36],[5.65,3.32],[5.17,3.38],[4.95,3.42],[4.75,3.42],[4.85,3.35],[2.3,3.45],[2.42,3.38],[2.45,3.32],[2.55,3.25],[2.65,3.48],[2.72,3.4],[2.8,3.28],[2.92,3.42],[3.05,3.32],[3.18,3.38],[3.3,3.42],[3.42,3.35],[3.52,3.32],[3.62,3.36],[3.75,3.35],[3.85,3.36],[4.12,3.4],[4.22,3.32],[2.18,3.2],[2.5,3.05],[2.65,3.2],[2.72,3.0],[2.75,3.02],[2.85,3.22],[2.92,3.25],[3.0,3.05],[3.1,3.08],[3.2,3.18],[3.28,3.0],[3.38,3.05],[3.48,3.2],[3.6,3.22],[3.68,3.14],[3.75,3.18],[3.82,3.08],[3.78,3.0],[3.85,3.0],[3.95,3.22],[2.55,2.83],[2.68,2.72],[2.8,2.82],[2.9,2.84],[2.92,2.7],[3.1,2.72],[3.0,2.64],[3.22,2.67],[3.3,2.65],[3.42,2.67],[3.5,2.6],[3.55,2.68],[3.2,2.58],[2.78,2.6],[3.15,2.82],[3.48,2.87],[3.6,2.62],[3.72,2.9],[3.82,2.68],[3.9,2.72],[3.95,2.7],[3.65,2.85],[3.9,2.83],[3.5,2.72]];
const a3Rb1Field: [number, number][] = [[2.6,5.48],[2.83,5.47],[3.11,5.49],[3.21,5.52],[3.46,5.52],[3.68,5.51],[3.81,5.55],[3.97,5.58],[3.84,5.44],[4.08,5.5],[2.03,5.38],[2.38,5.35],[2.32,5.32],[2.19,5.28],[2.89,5.34],[2.79,5.4],[3.3,5.4],[3.43,5.42],[3.59,5.36],[3.68,5.34],[4.06,5.36],[4.19,5.38],[4.44,5.39],[4.59,5.35],[2.59,5.27],[2.89,5.24],[3.18,5.28],[3.05,5.26],[3.59,5.24],[3.46,5.18],[3.87,5.29],[4.15,5.24],[4.06,5.18],[3.94,5.17],[4.41,5.24],[4.54,5.22],[4.65,5.2],[2.57,5.17],[2.26,5.07],[2.38,5.09],[2.7,5.08],[2.57,5.02],[2.83,5.03],[3.02,5.09],[3.18,5.15],[3.37,5.07],[3.59,5.13],[3.71,5.09],[3.52,5.03],[3.87,5.11],[4.03,5.13],[4.16,5.09],[4.32,5.13],[4.51,5.14],[4.67,5.14],[4.81,5.13],[4.86,5.06],[4.25,5.05],[2.38,4.99],[2.32,4.93],[2.76,4.93],[2.89,4.95],[3.02,4.93],[3.15,4.95],[3.37,4.99],[3.46,4.95],[3.65,4.99],[3.78,4.93],[3.97,4.97],[4.06,4.99],[4.16,4.97],[4.41,4.93],[4.57,4.99],[4.67,4.95],[4.79,4.93],[4.95,4.9],[2.51,4.85],[2.76,4.86],[2.92,4.85],[3.05,4.82],[3.18,4.86],[3.43,4.86],[3.37,4.82],[3.59,4.82],[3.78,4.85],[4.06,4.86],[4.19,4.82],[4.35,4.82],[4.51,4.86],[4.7,4.85],[2.03,4.78],[2.13,4.75],[2.29,4.75],[2.54,4.78],[2.86,4.78],[3.18,4.76],[3.46,4.74],[3.71,4.76],[3.97,4.78],[4.13,4.74],[4.28,4.75],[4.6,4.78],[4.76,4.76],[2.6,4.72],[1.91,4.68],[1.84,4.65],[2.13,4.68],[2.41,4.68],[2.57,4.68],[2.7,4.7],[2.86,4.68],[3.02,4.7],[3.18,4.65],[3.33,4.68],[3.56,4.7],[3.71,4.65],[3.9,4.7],[4.06,4.65],[4.25,4.68],[4.44,4.68],[4.67,4.68],[4.86,4.65],[2.0,4.6],[2.22,4.63],[2.7,4.61],[2.95,4.61],[3.15,4.57],[3.27,4.59],[3.43,4.61],[3.65,4.6],[3.84,4.59],[4.0,4.61],[4.32,4.6],[4.54,4.6],[4.76,4.58],[4.95,4.6],[2.02,4.56],[2.51,4.57],[2.6,4.52],[2.76,4.53],[2.89,4.55],[2.26,4.49],[2.38,4.47],[3.08,4.51],[3.21,4.49],[3.33,4.51],[3.49,4.53],[3.65,4.52],[3.78,4.49],[3.94,4.53],[4.13,4.55],[4.25,4.49],[4.41,4.55],[4.48,4.49],[4.73,4.47],[2.02,4.41],[2.38,4.41],[2.54,4.43],[2.7,4.45],[3.18,4.43],[3.27,4.39],[3.43,4.43],[3.56,4.41],[3.65,4.43],[4.19,4.41],[4.25,4.43],[1.84,4.3],[2.13,4.32],[2.41,4.36],[2.41,4.3],[2.05,4.36],[3.05,4.34],[3.43,4.34],[3.3,4.3],[3.56,4.34],[3.68,4.34],[3.71,4.26],[4.03,4.34],[3.94,4.3],[4.48,4.35],[4.73,4.3],[4.89,4.3],[2.0,4.26],[2.22,4.24],[2.32,4.22],[2.67,4.26],[2.83,4.26],[2.95,4.26],[3.43,4.24],[3.56,4.26],[3.65,4.24],[3.9,4.27],[4.0,4.22],[4.48,4.23],[4.6,4.24],[4.48,4.19],[4.92,4.22],[1.83,4.1],[1.89,4.07],[2.16,4.07],[2.22,4.12],[2.35,4.05],[2.7,4.09],[2.83,4.07],[2.92,4.1],[3.27,4.1],[3.43,4.07],[3.52,4.09],[3.68,4.09],[3.84,4.07],[4.0,4.09],[4.16,4.07],[4.52,4.09],[2.6,4.02],[3.05,4.02],[3.18,4.03],[3.65,4.03],[3.94,4.03],[4.06,4.0],[2.1,3.94],[2.38,3.95],[2.51,3.97],[2.57,3.93],[2.92,3.96],[3.08,3.91],[3.27,3.91],[3.68,3.95],[3.94,3.95],[4.16,3.97],[4.25,3.89],[4.44,3.91],[4.48,3.9],[4.67,3.91],[4.86,3.91],[4.89,3.99],[1.97,3.91],[2.0,3.84],[2.22,3.87],[2.76,3.89],[2.95,3.87],[3.18,3.84],[3.43,3.89],[3.65,3.87],[3.84,3.89],[4.06,3.91],[4.38,3.87],[4.57,3.84],[4.76,3.84],[2.0,3.76],[2.16,3.78],[2.45,3.8],[2.6,3.78],[2.76,3.76],[2.89,3.8],[3.05,3.78],[3.21,3.76],[3.81,3.8],[4.48,3.78],[2.19,3.72],[2.6,3.7],[2.79,3.74],[2.98,3.74],[3.43,3.72],[3.65,3.74],[3.84,3.72],[3.97,3.7],[4.32,3.7],[2.26,3.62],[2.73,3.58],[2.83,3.64],[2.95,3.62],[3.18,3.58],[3.37,3.62],[3.52,3.58],[3.71,3.64],[3.94,3.64],[4.25,3.68],[4.35,3.64],[4.54,3.62],[4.7,3.66],[4.89,3.62],[2.73,3.51],[2.86,3.51],[3.11,3.53],[3.4,3.51],[3.65,3.53],[3.97,3.53],[4.13,3.53],[4.6,3.51],[4.95,3.58],[5.01,3.55],[1.78,3.43],[2.29,3.47],[2.7,3.39],[2.89,3.35],[3.08,3.41],[3.24,3.43],[3.4,3.35],[3.49,3.32],[3.78,3.37],[3.9,3.37],[4.28,3.3],[4.73,3.37],[4.86,3.35],[5.05,3.43],[2.45,3.26],[2.67,3.22],[2.89,3.24],[3.11,3.3],[3.24,3.26],[3.62,3.26],[3.97,3.22],[4.25,3.22],[4.19,3.28],[4.0,3.24]];

// ---------- Shared tick values and labels ----------
const ticksEvenX = [2, 4, 6, 8, 10];
const ticksFraction = [0, 0.5, 1, 1.5, 2];
const labelsEvenX = ["2", "4", "6", "8", "10"];
const labelsFraction = ["0.0", "0.5", "1.0", "1.5", "2.0"];
const ticksRb1 = [1, 2, 3, 4, 5, 6];
const ticksA3Y = [2, 4, 6, 8, 10];
const ticksA4Y = [0, 1, 2, 3, 4, 5, 6, 7];

const zeroX = (ys: number[], x: number) => ys.map((y) => [x, y] as [number, number]);
const atY = (xs: number[], y: number) => xs.map((x) => [x, y] as [number, number]);

const panels = [
  { pos: [0, 0, 640, 600], box: [94.2, 9.6, 603.3, 498.7], xr: [0.294, 10.727], yr: [-0.0816, 2.09], xt: ticksEvenX, xl: labelsEvenX, yt: ticksFraction, yl: labelsFraction, xTitle: "log2(SLC2A1 TPM)", yTitle: "log2(SLC2A2 TPM)", p: "p\u2212value = 0.57", r: "R = \u22120.015", txt: [124.5, 43.2], pad: 10,
    pts: [...atY(a1BaselineX, 0), ...atY(a1LowX, 0.014), ...atY(a1MidX, 0.028), ...a1Outliers] },
  { pos: [660, 0, 640, 600], box: [102, 11.5, 612, 501.3], xr: [0.286, 10.736], yr: [0.351, 6.458], xt: ticksEvenX, xl: labelsEvenX, yt: ticksRb1, yl: ticksRb1.map(String), xTitle: "log2(SLC2A1 TPM)", yTitle: "log2(RB1 TPM)", p: "p\u2212value = 0.34", r: "R = \u22120.026", txt: [133, 46.3], pad: 17.6,
    pts: [...a1Rb1Sparse, ...a1Rb1Core, ...a1Rb1Field] },
  { pos: [1320, 0, 626, 600], box: [107, 7.7, 618, 498.7], xr: [-0.08, 2.093], yr: [0.372, 10.083], xt: ticksFraction, xl: labelsFraction, yt: ticksA3Y, yl: ticksA3Y.map(String), xTitle: "log2(SLC2A2 TPM)", yTitle: "log2(SLC2A3 TPM)", p: "p\u2212value = 0.17", r: "R = 0.037", txt: [137.7, 43.2], pad: 12.6,
    pts: [...zeroX(a3AtZero, 0), ...zeroX(a3AtSmall, 0.012), ...zeroX(a3AtTiny, 0.02), ...a3Sparse] },
  { pos: [0, 607, 640, 600], box: [95.1, 13.8, 605.3, 503], xr: [-0.0817, 2.09], yr: [-0.27, 7.08], xt: ticksFraction, xl: labelsFraction, yt: ticksA4Y, yl: ticksA4Y.map(String), xTitle: "log2(SLC2A2 TPM)", yTitle: "log2(SLC2A4 TPM)", p: "p\u2212value = 0.054", r: "R = 0.052", txt: [125.7, 48.2], pad: 17.6,
    pts: [...zeroX(a4AtZero, 0), ...zeroX(a4AtSmall, 0.014), ...zeroX(a4AtTiny, 0.028), ...a4Sparse] },
  { pos: [660, 607, 640, 600], box: [100.4, 16, 611, 506.3], xr: [-0.0816, 2.09], yr: [0.346, 6.458], xt: ticksFraction, xl: labelsFraction, yt: ticksRb1, yl: ticksRb1.map(String), xTitle: "log2(SLC2A2 TPM)", yTitle: "log2(RB1 TPM)", p: "p\u2212value = 0.14", r: "R = \u22120.04", txt: [131.4, 50.9], pad: 17.6,
    pts: [...zeroX(rb1AtZero, 0), ...zeroX(rb1AtSmall, 0.01), ...zeroX(rb1AtTiny, 0.018), ...rb1Sparse] },
  { pos: [1320, 607, 626, 600], box: [107.8, 10.7, 617.6, 499.8], xr: [0.376, 10.07], yr: [0.351, 6.448], xt: ticksEvenX, xl: labelsEvenX, yt: ticksRb1, yl: ticksRb1.map(String), xTitle: "log2(SLC2A3 TPM)", yTitle: "log2(RB1 TPM)", p: "p\u2212value = 0.096", r: "R = \u22120.045", txt: [138.1, 45.5], pad: 17.6,
    pts: [...a3Rb1Sparse, ...a3Rb1Core, ...a3Rb1Field] },
];

const FONT = "'Liberation Sans', Arial, sans-serif";
const INK = "#404040";
const TITLE_SIZE = 27.9;

function Panel({ cfg }: { cfg: (typeof panels)[number] }) {
  const ref = useRef<HTMLCanvasElement>(null);
  useEffect(() => {
    const [, , w, h] = cfg.pos;
    const [bl, bt, br, bb] = cfg.box;
    const zeroPad = (s: any) => { s.paddingLeft = 0; s.paddingRight = 0; s.paddingTop = 0; s.paddingBottom = 0; };
    const frame = {
      id: "frame",
      afterDatasetsDraw(chart: any) {
        const { ctx, chartArea: a } = chart;
        ctx.save();
        ctx.strokeStyle = INK;
        ctx.lineWidth = 1.5;
        ctx.strokeRect(a.left, a.top, a.right - a.left, a.bottom - a.top);
        ctx.fillStyle = "#1a1a1a";
        ctx.font = `24.4px ${FONT}`;
        ctx.textBaseline = "alphabetic";
        ctx.fillText(cfg.p, cfg.txt[0], cfg.txt[1]);
        ctx.fillText(cfg.r, cfg.txt[0], cfg.txt[1] + 29.5);
        ctx.restore();
      },
    };
    const chart = new Chart(ref.current!, {
      type: "scatter",
      data: { datasets: [{ data: cfg.pts.map(([x, y]) => ({ x, y })), backgroundColor: "#000", borderWidth: 0, pointRadius: 2.85, pointHoverRadius: 2.85 }] },
      plugins: [frame],
      options: {
        responsive: false,
        animation: false,
        layout: { padding: { left: 0, top: bt, right: w - br, bottom: 0 } },
        plugins: { legend: { display: false }, tooltip: { enabled: false } },
        scales: {
          x: {
            type: "linear", min: cfg.xr[0], max: cfg.xr[1],
            afterBuildTicks: (s: any) => { s.ticks = cfg.xt.map((value) => ({ value })); },
            afterFit: (s: any) => { s.height = h - bb; zeroPad(s); },
            grid: { drawOnChartArea: false, drawTicks: true, tickLength: 11, color: INK, lineWidth: 1.3 },
            border: { display: false },
            ticks: { autoSkip: false, maxRotation: 0, minRotation: 0, padding: 14.4, color: "#222", font: { family: FONT, size: 18 }, callback: (_v: any, i: number) => cfg.xl[i] },
            title: { display: true, text: cfg.xTitle, color: "#222", font: { family: FONT, size: TITLE_SIZE, lineHeight: 1 }, padding: { top: 0, bottom: h - bb - 76.5 - TITLE_SIZE / 2 } },
          },
          y: {
            type: "linear", min: cfg.yr[0], max: cfg.yr[1],
            afterBuildTicks: (s: any) => { s.ticks = cfg.yt.map((value) => ({ value })); },
            afterFit: (s: any) => { s.width = bl; zeroPad(s); },
            grid: { drawOnChartArea: false, drawTicks: true, tickLength: 11, color: INK, lineWidth: 1.3 },
            border: { display: false },
            ticks: { autoSkip: false, minRotation: 90, maxRotation: 90, crossAlign: "center", padding: cfg.pad, color: "#222", font: { family: FONT, size: 18 }, callback: (_v: any, i: number) => cfg.yl[i] },
            title: { display: true, text: cfg.yTitle, color: "#222", font: { family: FONT, size: TITLE_SIZE, lineHeight: 1 }, padding: { top: bl - 79 - TITLE_SIZE / 2, bottom: 0 } },
          },
        },
      },
    } as any);
    return () => chart.destroy();
  }, [cfg]);
  const [l, t, w, h] = cfg.pos;
  return <canvas ref={ref} width={w} height={h} style={{ position: "absolute", left: l, top: t, width: w, height: h, display: "block" }} />;
}

export default function App() {
  return (
    <div style={{ position: "absolute", left: 0, top: 0, width: 1946, height: 1207, background: "#fff", overflow: "hidden" }}>
      {panels.map((cfg, i) => (
        <Panel key={i} cfg={cfg} />
      ))}
    </div>
  );
}
